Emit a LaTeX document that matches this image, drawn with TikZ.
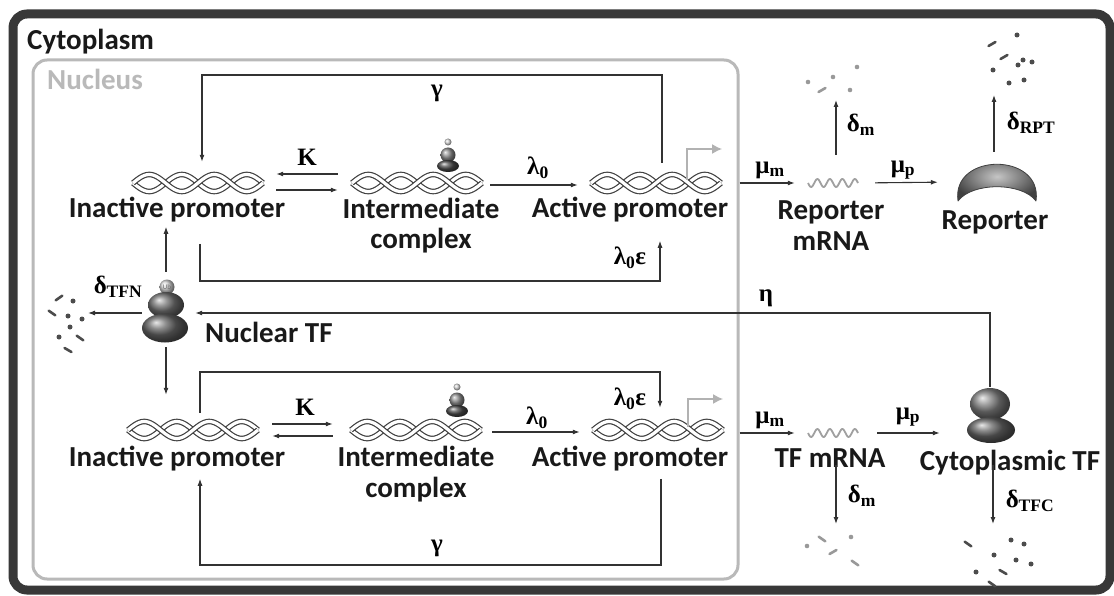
\documentclass[tikz,border=0pt]{standalone}
\usepackage{fontspec}
\setmainfont{Carlito}
\newfontfamily\ratefont{Liberation Serif}
\usetikzlibrary{arrows.meta}

\tikzset{
  rxn/.style={draw=linegray, line width=1.1pt},
  txn/.style={draw=gray!60, line width=1.4pt, -{Latex[length=10pt,width=10pt]}},
  lbl/.style={font=\bfseries\fontsize{29}{31}\selectfont, text=txtgray, align=center, inner sep=0pt, anchor=base},
  rate/.style={font=\ratefont\bfseries\fontsize{25}{25}\selectfont, inner sep=0pt},
  slot/.style={minimum width=130pt, minimum height=20pt, inner sep=0pt},
  strand/.style={draw=black!75, double=white, line width=1.2pt, double distance=3.2pt},
  bit/.style={line width=2.6pt, line cap=round},
  % double helix, 130pt long, four half turns (5.5385 = 180/32.5)
  pics/dna/.style={code={
    \draw[strand] plot[domain=-65:65, samples=70, smooth] (\x,{8.5*sin((\x+65)*5.5385)});
    \draw[strand] plot[domain=-65:65, samples=70, smooth] (\x,{-8.5*sin((\x+65)*5.5385)});
  }},
  pics/mrna/.style={code={
    \draw[rnagray, line width=1.8pt] plot[domain=-25:25, samples=60, smooth] (\x,{4*sin((\x+25)*28.8)});
  }},
  pics/crescent/.style={code={
    \shadedraw[draw=black!75, line width=0.8pt, line join=round, inner color=gray!45, outer color=black!75]
      (-39,19) .. controls (-46,-30) and (46,-30) .. (39,19)
      .. controls (25,0) and (-25,0) .. cycle;
  }},
  % transcription factor with ubiquitin tag
  pics/tfnuc/.style={code={
    \shade[ball color=gray!35] (1,-26) circle (7.5pt);
    \node[font=\fontsize{7}{7}\selectfont, text=black!60, inner sep=0pt] (ubtag) at (1,-26) {Ub};
    \shade[ball color=black!55] (0,-8) ellipse [x radius=18pt, y radius=13pt];
    \shade[ball color=black!60] (-1,15) ellipse [x radius=23pt, y radius=14.5pt];
  }},
  pics/tfcyt/.style={code={
    \shade[ball color=black!50] (0,-11) ellipse [x radius=20pt, y radius=16pt];
    \shade[ball color=black!60] (1,15) ellipse [x radius=24pt, y radius=13pt];
  }},
  pics/tfsmall/.style={code={
    \shade[ball color=gray!30] (0,-13) circle (3.5pt);
    \shade[ball color=black!45] (0,0) circle (7.5pt);
    \shade[ball color=black!70] (0,11) ellipse [x radius=11pt, y radius=6pt];
  }}
}

\begin{document}
\begin{tikzpicture}[x=1pt,y=-1pt,>={Latex[length=7pt,width=5pt]}]
\definecolor{linegray}{RGB}{50,50,50}
\definecolor{txtgray}{RGB}{25,25,25}
\definecolor{nucgray}{RGB}{185,185,185}
\definecolor{rnagray}{RGB}{160,160,160}
\fill[white] (0,0) rectangle (1114,596);
\useasboundingbox (0,0) rectangle (1114,596);

% compartments
\node[draw=black!78, line width=9pt, rounded corners=14pt, minimum width=1097pt, minimum height=576pt] (cyto) at (561.5,302) {};
\node[draw=nucgray, line width=3pt, rounded corners=14pt, minimum width=705pt, minimum height=519pt] (nuc) at (385.5,319.5) {};
\node[lbl, anchor=base west] (cytolbl) at (27,50) {Cytoplasm};
\node[lbl, anchor=base west, text=nucgray] (nuclbl) at (47,90) {Nucleus};

% reporter gene
\node[slot] (ipT) at (198,183) {}; \pic at (ipT) {dna};
\node[slot] (icT) at (417,183) {}; \pic at (icT) {dna}; \pic at (448,155) {tfsmall};
\node[slot] (apT) at (656,183) {}; \pic at (apT) {dna};
\node[lbl] (ipTl) at (177,218) {Inactive promoter};
\node[lbl] (icTl) at (421,249) {Intermediate\\complex};
\node[lbl] (apTl) at (630,218) {Active promoter};
\node[minimum width=50pt, minimum height=12pt, inner sep=0pt] (rmT) at (833,183) {}; \pic at (rmT) {mrna};
\node[lbl] (rmTl) at (831,251) {Reporter\\mRNA};
\node[minimum width=80pt, minimum height=40pt, inner sep=0pt] (rpT) at (997,182) {}; \pic at (rpT) {crescent};
\node[lbl] (rpTl) at (995,230) {Reporter};

% TF gene
\node[slot] (ipB) at (193,430) {}; \pic at (ipB) {dna};
\node[slot] (icB) at (416,430) {}; \pic at (icB) {dna}; \pic at (457,400) {tfsmall};
\node[slot] (apB) at (658,430) {}; \pic at (apB) {dna};
\node[lbl] (ipBl) at (177,466) {Inactive promoter};
\node[lbl] (icBl) at (416,497) {Intermediate\\complex};
\node[lbl] (apBl) at (630,466) {Active promoter};
\node[minimum width=50pt, minimum height=12pt, inner sep=0pt] (tmB) at (833,433) {}; \pic at (tmB) {mrna};
\node[lbl] (tmBl) at (830,467) {TF mRNA};
\node[minimum width=48pt, minimum height=56pt, inner sep=0pt] (ctf) at (990,415) {}; \pic at (ctf) {tfcyt};
\node[lbl] (ctfl) at (1010,470) {Cytoplasmic TF};

% nuclear TF
\node[minimum width=48pt, minimum height=64pt, inner sep=0pt] (ntf) at (166,313) {}; \pic at (ntf) {tfnuc};
\node[lbl, anchor=base west] (ntfl) at (205,342) {Nuclear TF};

% degradation products
\coordinate (tfnJunk) at (68,313);
\coordinate (rmJunk) at (836,80);
\coordinate (rpJunk) at (994,60);
\coordinate (tmJunk) at (836,552);
\coordinate (ctJunk) at (993,560);
\foreach \p in {(73,301),(68,316),(82,319),(70,327),(59,337),
                (1017,35),(1023,60),(1032,62),(1018,65),(993,70),(1009,83),(1024,80),
                (994,555),(1011,540),(1024,544),(1016,560),(1031,564),(976,572)}
  \fill[black!70] \p circle (2.5pt);
\foreach \x/\y/\a in {59/298/35, 52/313/-35, 80/338/-35, 68/350/-30,
                      992/44/30, 1004/57/30,
                      968/544/-35, 1003/572/-30, 992/584/-35}
  \draw[bit, black!70] (\x,\y) ++(\a:-4pt) -- ++(\a:8pt);
\foreach \p in {(808,82),(833,77),(850,90),(857,67),(807,546),(851,537)}
  \fill[black!40] \p circle (2.3pt);
\foreach \x/\y/\a in {822/90/30, 822/539/-35, 833/552/30, 855/563/-35}
  \draw[bit, black!40] (\x,\y) ++(\a:-4pt) -- ++(\a:8pt);

% binding and activation
\draw[rxn,<-,shorten <=13pt,shorten >=14pt] ([yshift=9pt]ipT.east) -- ([yshift=9pt]icT.west);
\draw[rxn,->,shorten <=13pt,shorten >=14pt] ([yshift=-7pt]ipT.east) -- ([yshift=-7pt]icT.west);
\draw[rxn,->,shorten <=8pt,shorten >=13pt] ([yshift=-2pt]icT.east) -- ([yshift=-2pt]apT.west);
\draw[rxn,->,shorten <=14pt,shorten >=18pt] ([yshift=6pt]ipB.east) -- ([yshift=6pt]icB.west);
\draw[rxn,<-,shorten <=14pt,shorten >=18pt] ([yshift=-6pt]ipB.east) -- ([yshift=-6pt]icB.west);
\draw[rxn,->,shorten <=11pt,shorten >=13pt] ([yshift=-2pt]icB.east) -- ([yshift=-2pt]apB.west);
\node[rate] (kT) at (307,157) {K};
\node[rate] (kB) at (305,407) {K};
\node[rate] (lamT) at (538,168) {λ\textsubscript{0}};
\node[rate] (lamB) at (537,418) {λ\textsubscript{0}};

% transcription start
\draw[txn] ([xshift=31pt,yshift=3pt]apT.center) -- ++(0,-31) -- ++(35,0);
\draw[txn] ([xshift=30pt,yshift=3pt]apB.center) -- ++(0,-28) -- ++(35,0);

% inactivation and basal activation loops
\coordinate (gamT) at (437,75);
\coordinate (epsT) at (430,281);
\coordinate (epsB) at (430,372);
\coordinate (gamB) at (437,565);
\draw[rxn,->] ([xshift=6pt,yshift=10pt]apT.north) |- (gamT) -| ([xshift=4pt,yshift=11pt]ipT.north);
\draw[rxn,->] ([xshift=23pt,yshift=-21pt]ipTl.south) |- (epsT) -| ([xshift=30pt,yshift=-18pt]apTl.south);
\draw[rxn,->] ([xshift=7pt,yshift=7pt]ipB.north) |- (epsB) -| ([xshift=2pt,yshift=12pt]apB.north);
\draw[rxn,->] ([xshift=31pt,yshift=-8pt]apBl.south) |- (gamB) -| ([xshift=23pt,yshift=-8pt]ipBl.south);
\node[rate] (gamTl) at (437,93) {γ};
\node[rate] (gamBl) at (437,548) {γ};
\node[rate] (epsTl) at (630,258) {λ\textsubscript{0}ε};
\node[rate] (epsBl) at (630,399) {λ\textsubscript{0}ε};

% transcription, translation, decay
\draw[rxn,->,shorten >=13pt] (nuc.east |- rmT) -- (rmT.west);
\draw[rxn,->,shorten <=17pt,shorten >=19pt] (rmT.east) -- (rpT.west);
\draw[rxn,->,shorten >=13pt] (nuc.east |- tmB) -- (tmB.west);
\draw[rxn,->,shorten <=19pt,shorten >=26pt] (tmB.east) -- (ctf.west |- tmB);
\draw[rxn,->,shorten <=28pt,shorten >=20pt] (rmT -| rmJunk) -- (rmJunk);
\draw[rxn,->,shorten <=30pt,shorten >=35pt] (rpT -| rpJunk) -- (rpJunk);
\draw[rxn,->,shorten <=32pt,shorten >=28pt] (tmB -| tmJunk) -- (tmJunk);
\draw[rxn,->,shorten <=50pt,shorten >=36pt] (ctf -| ctJunk) -- (ctJunk);
\node[rate] (muT) at (770,170) {μ\textsubscript{m}};
\node[rate] (mupT) at (903,170) {μ\textsubscript{p}};
\node[rate] (muB) at (770,420) {μ\textsubscript{m}};
\node[rate] (mupB) at (908,417) {μ\textsubscript{p}};
\node[rate] (dmT) at (861,125) {δ\textsubscript{m}};
\node[rate] (drpt) at (1031,123) {δ\textsubscript{RPT}};
\node[rate] (dmB) at (862,496) {δ\textsubscript{m}};
\node[rate] (dtfc) at (1030,501) {δ\textsubscript{TFC}};

% import and fate of the nuclear TF
\draw[rxn,->,shorten >=5pt] (ctf.north) |- (ntf.east);
\draw[rxn,->,shorten >=20pt] (ntf.west) -- (tfnJunk);
\draw[rxn,->,shorten <=9pt,shorten >=4pt] (ntf.north) -- (ntf.north |- ipTl.south);
\draw[rxn,->,shorten <=2pt,shorten >=25pt] (ntf.south) -- (ntf.south |- ipB.north);
\node[rate] (eta) at (766,298) {η};
\node[rate] (dtfn) at (118,287) {δ\textsubscript{TFN}};
\end{tikzpicture}
\end{document}
